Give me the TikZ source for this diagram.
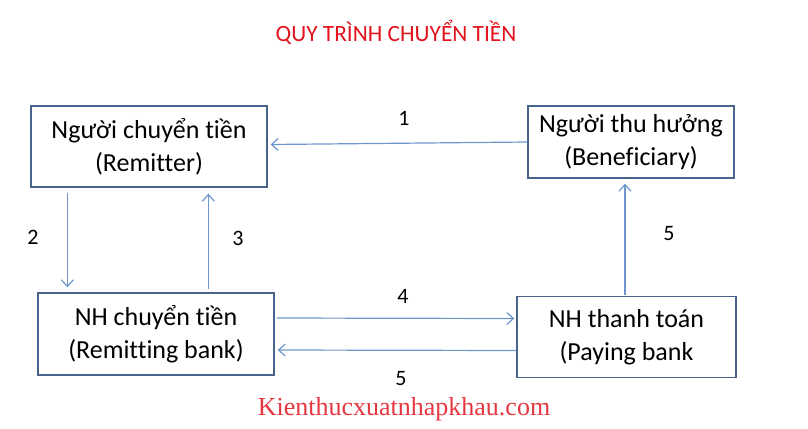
\documentclass[tikz,border=0pt]{standalone}
\usepackage{fontspec}
\setmainfont{Carlito}[Ligatures=NoCommon]
\newfontfamily\timesfont{Liberation Serif}
\usetikzlibrary{arrows.meta,calc}

\tikzset{every picture/.style={line width=0.75pt}}
\definecolor{boxline}{RGB}{70,100,140}
\definecolor{flowline}{RGB}{110,150,205}
\definecolor{titlered}{RGB}{225,20,30}
\tikzset{
  party/.style={draw=boxline, fill=white, line width=1pt, align=center, font=\fontsize{19.5}{24.5}\selectfont, inner sep=0pt},
  flow/.style={draw=flowline, line width=0.9pt, -{Straight Barb[length=5pt,width=9pt]}},
  steplabel/.style={font=\fontsize{16.5}{18}\selectfont}
}

\begin{document}
\begin{tikzpicture}[x=0.75pt,y=0.75pt,yscale=-1,xscale=1]
	\useasboundingbox (0,0) rectangle (808,429);

	% Text Node
	\node [text=titlered, font=\fontsize{17.5}{19}\selectfont] (title) at (396,32) {QUY TRÌNH CHUYỂN TIỀN};

	%Shape: Rectangle (Remitter)
	\node [party, minimum width=236*0.75pt, minimum height=81*0.75pt] (remitter) at (149,146.5) {Người chuyển tiền\\(Remitter)};
	%Shape: Rectangle (Beneficiary)
	\node [party, minimum width=206*0.75pt, minimum height=72*0.75pt] (benef) at (631,142) {Người thu hưởng\\(Beneficiary)};
	%Shape: Rectangle (Remitting bank)
	\node [party, minimum width=236*0.75pt, minimum height=82*0.75pt] (rembank) at (156,334) {NH chuyển tiền\\(Remitting bank)};
	%Shape: Rectangle (Paying bank)
	\node [party, minimum width=219*0.75pt, minimum height=81*0.75pt] (paybank) at (626.5,337) {NH thanh toán\\(Paying bank};

	%Straight Lines
	\draw [flow] ($(benef.west)+(0,0)$) -- ($(remitter.east)+(3,-2)$);
	\draw [flow] ($(remitter.south west)+(37,5)$) -- ($(rembank.north west)+(30,-5)$);
	\draw [flow] ($(rembank.north west)+(171,-3)$) -- ($(remitter.south west)+(178,6)$);
	\draw [flow] ($(rembank.east)+(2,-16)$) -- ($(paybank.west)+(-2,-18.5)$);
	\draw [flow] ($(paybank.west)+(0,13.5)$) -- ($(rembank.east)+(3,16)$);
	\draw [flow] ($(paybank.north)+(-1.5,-1)$) -- ($(benef.south)+(-6,5)$);

	% Text Node
	\node [steplabel] (n1) at (404,118) {1};
	\node [steplabel] (n2) at (33,237) {2};
	\node [steplabel] (n3) at (238,238) {3};
	\node [steplabel] (n4) at (403,296) {4};
	\node [steplabel] (n5a) at (401,379) {5};
	\node [steplabel] (n5b) at (669,234) {5};

	% Text Node
	\node [text=titlered!85!white, font=\timesfont\fontsize{19.5}{22}\selectfont] (site) at (404,409) {Kienthucxuatnhapkhau.com};

\end{tikzpicture}
\end{document}
